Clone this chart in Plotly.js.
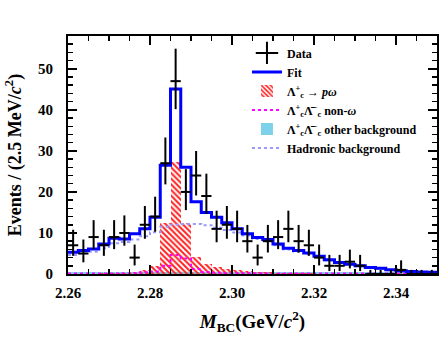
<!DOCTYPE html>
<html>
<head>
<meta charset="utf-8">
<script src="https://cdn.plot.ly/plotly-3.0.1.min.js"></script>
<style>
  html, body { margin: 0; padding: 0; background: #fff; }
  #chart { width: 448px; height: 356px; }
</style>
</head>
<body>
<div id="chart"></div>
<script>
// M_BC spectrum, 2.5 MeV bins from 2.26 to 2.35 GeV/c^2
const binLo = 2.26;
const binW = 0.0025;

// observed events per bin
const counts = [7, 5, 9, 7, 9, 10, 4, 12, 14, 27, 47, 20, 24, 19, 11, 12, 11, 8,
                4, 8, 9, 11, 8, 7, 4, 2, 2, 3, 2, 0, 0, 0, 1, 0, 0, 0];

// total fit
const fitVals = [5.3, 5.7, 6.1, 7.3, 8.7, 8.5, 9.8, 11.0, 13.8, 26.5, 45.1, 26.0,
                 17.6, 15.0, 13.8, 12.5, 11.0, 9.8, 8.9, 8.4, 7.3, 6.3, 5.7, 5.1,
                 4.3, 3.5, 2.8, 2.4, 2.0, 1.6, 1.4, 1.05, 0.8, 0.6, 0.5, 0.4];

// Lambda_c -> p omega signal
const sigVals = [0.1, 0.1, 0.1, 0.2, 0.2, 0.3, 0.5, 1.0, 2.0, 12.4, 27.2, 12.4,
                 4.1, 2.4, 1.6, 1.2, 0.9, 0.7, 0.5, 0.4, 0.3, 0.2, 0.2, 0.15,
                 0.1, 0.1, 0.1, 0.05, 0.05, 0.05, 0, 0, 0, 0, 0, 0];

// Lambda_c Lambda_c-bar non-omega
const nonOmegaVals = [0.1, 0.1, 0.1, 0.1, 0.1, 0.2, 0.2, 0.4, 0.6, 2.0, 4.6, 3.8,
                      1.2, 0.5, 0.3, 0.2, 0.2, 0.2, 0.2, 0.15, 0.15, 0.1, 0.1, 0.1,
                      0.1, 0.1, 0.1, 0.1, 0.1, 0.1, 0.1, 0.1, 0.1, 0.1, 0.1, 0.1];

// Lambda_c Lambda_c-bar other background
const otherBkgVals = [0.4, 0.4, 0.4, 0.4, 0.4, 0.4, 0.4, 0.4, 0.4, 0.4, 0.4, 0.4,
                      0.4, 0.4, 0.4, 0.4, 0.4, 0.4, 0.4, 0.4, 0.4, 0.4, 0.4, 0.4,
                      0.4, 0.4, 0.4, 0.4, 0.4, 0.4, 0.4, 0.4, 0.4, 0.4, 0.4, 0.4];

// hadronic background
const hadronicVals = [4.6, 5.0, 5.4, 6.3, 7.5, 7.8, 8.4, 9.2, 10.2, 11.5, 12.0, 12.2,
                      12.2, 11.9, 11.3, 10.7, 10.1, 9.4, 8.5, 7.9, 7.0, 6.0, 5.4, 4.8,
                      4.1, 3.3, 2.7, 2.3, 1.9, 1.5, 1.2, 0.9, 0.7, 0.5, 0.4, 0.3];

const centers = counts.map((_, i) => binLo + (i + 0.5) * binW);
const edges = counts.concat([0]).map((_, i) => binLo + i * binW);
const stepY = vals => vals.concat([vals[vals.length - 1]]);

// asymmetric Poisson errors (Gehrels approximation)
const errUp = counts.map(n => n > 0 ? Math.sqrt(n + 0.75) + 1 : 1.0);
const errDn = counts.map(n => n > 0 ? n - n * Math.pow(1 - 1 / (9 * n) - 1 / (3 * Math.sqrt(n)), 3) : 0);

const serif = 'Liberation Serif, Times New Roman, serif';

const traceOther = {
    x: centers, y: otherBkgVals, type: 'bar', width: binW,
    name: '<b>Λ<sup>+</sup><sub>c</sub>Λ̄<sup>−</sup><sub>c</sub> other background</b>',
    marker: { color: '#7dd2ea', line: { width: 0 } },
    legendrank: 5
};

const traceSig = {
    x: centers, y: sigVals, type: 'bar', width: binW,
    name: '<b>Λ<sup>+</sup><sub>c</sub> → <i>p</i><i>ω</i></b>',
    marker: {
        color: 'rgba(0,0,0,0)',
        line: { width: 0 },
        pattern: { shape: '\\', fgcolor: '#ff2020', bgcolor: 'rgba(0,0,0,0)', size: 4, solidity: 0.5 }
    },
    legendrank: 3
};

const traceNonOmega = {
    x: edges, y: stepY(nonOmegaVals), type: 'scatter', mode: 'lines',
    name: '<b>Λ<sup>+</sup><sub>c</sub>Λ̄<sup>−</sup><sub>c</sub> non-<i>ω</i></b>',
    line: { color: '#ff00ff', width: 2, dash: 'dot', shape: 'hv' },
    legendrank: 4
};

const traceHad = {
    x: edges, y: stepY(hadronicVals), type: 'scatter', mode: 'lines',
    name: '<b>Hadronic background</b>',
    line: { color: '#9999ff', width: 2, dash: 'dot', shape: 'hv' },
    legendrank: 6
};

const traceFit = {
    x: edges, y: stepY(fitVals), type: 'scatter', mode: 'lines',
    name: '<b>Fit</b>',
    line: { color: '#0000ff', width: 3, shape: 'hv' },
    legendrank: 2
};

const traceData = {
    x: centers, y: counts, type: 'scatter', mode: 'markers',
    showlegend: false,
    marker: { size: 1, color: 'black' },
    error_x: { type: 'constant', value: binW / 2, thickness: 2, width: 0, color: 'black' },
    error_y: { type: 'data', symmetric: false, array: errUp, arrayminus: errDn, thickness: 2, width: 0, color: 'black' },
    cliponaxis: false
};

// legend entry for the data crosses
const traceDataKey = {
    x: [null], y: [null], type: 'scatter', mode: 'markers',
    name: '<b>Data</b>',
    marker: { symbol: 'cross-thin-open', size: 16, color: 'black', line: { width: 2, color: 'black' } },
    legendrank: 1
};

const axisCommon = {
    showline: true, linecolor: 'black', linewidth: 2, mirror: 'allticks',
    ticks: 'inside', ticklen: 9, tickwidth: 2, tickcolor: 'black',
    showgrid: false, zeroline: false,
    tickfont: { family: serif, size: 15, color: 'black', weight: 'bold' }
};

const layout = {
    width: 448, height: 356,
    margin: { l: 68, r: 11, t: 36, b: 82 },
    paper_bgcolor: 'white', plot_bgcolor: 'white',
    barmode: 'overlay', bargap: 0,
    showlegend: true,
    legend: {
        x: 0.485, y: 0.99, xanchor: 'left', yanchor: 'top',
        bgcolor: 'rgba(0,0,0,0)',
        font: { family: serif, size: 12, color: 'black' },
        tracegroupgap: 0, itemwidth: 30
    },
    xaxis: Object.assign({}, axisCommon, {
        range: [2.26, 2.35], dtick: 0.02, tick0: 2.26, tickformat: '.2f',
        ticklabelstandoff: 4,
        minor: { ticks: 'inside', ticklen: 5, tickwidth: 1.5, tickcolor: 'black', dtick: 0.005 },
        title: { text: '<b><i>M</i><sub>BC</sub>(GeV/<i>c</i><sup>2</sup>)</b>', font: { family: serif, size: 19, color: 'black' }, standoff: 15 }
    }),
    yaxis: Object.assign({}, axisCommon, {
        range: [0, 58], dtick: 10, tick0: 0, ticklabelstandoff: 10,
        minor: { ticks: 'inside', ticklen: 5, tickwidth: 1.5, tickcolor: 'black', dtick: 2 },
        title: { text: '<b>Events / (2.5 MeV/<i>c</i><sup>2</sup>)</b>', font: { family: serif, size: 18, color: 'black' }, standoff: 12 }
    })
};

const traces = [traceOther, traceSig, traceNonOmega, traceHad, traceFit, traceData, traceDataKey];
traces.forEach((t, i) => { t.legendgroup = 'g' + i; });

Plotly.newPlot('chart', traces, layout, { displayModeBar: false, staticPlot: true });
</script>
</body>
</html>
